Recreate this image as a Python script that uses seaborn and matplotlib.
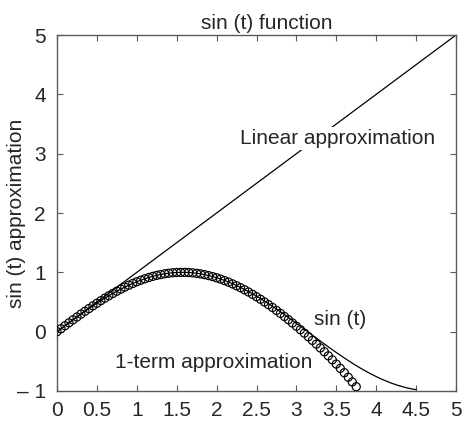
import matplotlib
matplotlib.use("Agg")
import matplotlib.pyplot as plt
import seaborn as sns
import pandas as pd

# Time samples for the series approximation (circles), step 0.05 from 0 to 3.75
t_approx = [0.00, 0.05, 0.10, 0.15, 0.20, 0.25, 0.30, 0.35, 0.40, 0.45,
            0.50, 0.55, 0.60, 0.65, 0.70, 0.75, 0.80, 0.85, 0.90, 0.95,
            1.00, 1.05, 1.10, 1.15, 1.20, 1.25, 1.30, 1.35, 1.40, 1.45,
            1.50, 1.55, 1.60, 1.65, 1.70, 1.75, 1.80, 1.85, 1.90, 1.95,
            2.00, 2.05, 2.10, 2.15, 2.20, 2.25, 2.30, 2.35, 2.40, 2.45,
            2.50, 2.55, 2.60, 2.65, 2.70, 2.75, 2.80, 2.85, 2.90, 2.95,
            3.00, 3.05, 3.10, 3.15, 3.20, 3.25, 3.30, 3.35, 3.40, 3.45,
            3.50, 3.55, 3.60, 3.65, 3.70, 3.75]
y_approx = [0.000, 0.050, 0.100, 0.149, 0.199, 0.247, 0.296, 0.343, 0.389, 0.435,
            0.479, 0.523, 0.565, 0.605, 0.644, 0.682, 0.717, 0.751, 0.783, 0.813,
            0.841, 0.867, 0.891, 0.913, 0.932, 0.949, 0.963, 0.976, 0.985, 0.993,
            0.997, 0.999, 0.999, 0.997, 0.991, 0.984, 0.973, 0.961, 0.945, 0.928,
            0.908, 0.886, 0.861, 0.834, 0.805, 0.774, 0.741, 0.706, 0.669, 0.629,
            0.589, 0.546, 0.501, 0.455, 0.408, 0.358, 0.308, 0.256, 0.202, 0.147,
            0.091, 0.034, -0.025, -0.085, -0.147, -0.210, -0.274, -0.339, -0.407, -0.475,
            -0.546, -0.618, -0.692, -0.768, -0.847, -0.928]

# Exact sin(t) curve, step 0.05 from 0 to 4.5
t_sin = [0.00, 0.05, 0.10, 0.15, 0.20, 0.25, 0.30, 0.35, 0.40, 0.45,
         0.50, 0.55, 0.60, 0.65, 0.70, 0.75, 0.80, 0.85, 0.90, 0.95,
         1.00, 1.05, 1.10, 1.15, 1.20, 1.25, 1.30, 1.35, 1.40, 1.45,
         1.50, 1.55, 1.60, 1.65, 1.70, 1.75, 1.80, 1.85, 1.90, 1.95,
         2.00, 2.05, 2.10, 2.15, 2.20, 2.25, 2.30, 2.35, 2.40, 2.45,
         2.50, 2.55, 2.60, 2.65, 2.70, 2.75, 2.80, 2.85, 2.90, 2.95,
         3.00, 3.05, 3.10, 3.15, 3.20, 3.25, 3.30, 3.35, 3.40, 3.45,
         3.50, 3.55, 3.60, 3.65, 3.70, 3.75, 3.80, 3.85, 3.90, 3.95,
         4.00, 4.05, 4.10, 4.15, 4.20, 4.25, 4.30, 4.35, 4.40, 4.45, 4.50]
y_sin = [0.000, 0.050, 0.100, 0.149, 0.199, 0.247, 0.296, 0.343, 0.389, 0.435,
         0.479, 0.523, 0.565, 0.605, 0.644, 0.682, 0.717, 0.751, 0.783, 0.813,
         0.841, 0.867, 0.891, 0.913, 0.932, 0.949, 0.964, 0.976, 0.985, 0.993,
         0.997, 1.000, 1.000, 0.997, 0.992, 0.984, 0.974, 0.961, 0.946, 0.929,
         0.909, 0.887, 0.863, 0.837, 0.809, 0.778, 0.746, 0.711, 0.675, 0.638,
         0.598, 0.558, 0.516, 0.472, 0.427, 0.382, 0.335, 0.287, 0.239, 0.190,
         0.141, 0.091, 0.042, -0.008, -0.058, -0.108, -0.158, -0.207, -0.256, -0.304,
         -0.351, -0.397, -0.443, -0.487, -0.530, -0.572, -0.612, -0.651, -0.688, -0.723,
         -0.757, -0.789, -0.818, -0.846, -0.872, -0.895, -0.916, -0.935, -0.952, -0.966, -0.978]

# Linear (1-term) approximation y = t
t_lin = [0.0, 5.0]
y_lin = [0.0, 5.0]

x_ticks = [0, 0.5, 1, 1.5, 2, 2.5, 3, 3.5, 4, 4.5, 5]
x_tick_labels = ["0", "0.5", "1", "1.5", "2", "2.5", "3", "3.5", "4", "4.5", "5"]
y_ticks = [-1, 0, 1, 2, 3, 4, 5]
y_tick_labels = ["\u2013 1", "0", "1", "2", "3", "4", "5"]

sns.set_theme(style="white")
plt.rcParams["font.family"] = ["Liberation Sans", "DejaVu Sans"]

text_color = "#262626"
frame_color = "#5a5a5a"
fs = 15

fig = plt.figure(figsize=(4.62, 4.25), dpi=100)
ax = fig.add_axes([0.1234, 0.08, 0.8636, 0.8376])

df_lin = pd.DataFrame({"t": t_lin, "y": y_lin})
df_sin = pd.DataFrame({"t": t_sin, "y": y_sin})
df_app = pd.DataFrame({"t": t_approx, "y": y_approx})

sns.lineplot(data=df_lin, x="t", y="y", ax=ax, color="black", linewidth=0.9,
             sort=False, estimator=None, zorder=2)
sns.lineplot(data=df_sin, x="t", y="y", ax=ax, color="black", linewidth=0.9,
             sort=False, estimator=None, zorder=2)
sns.scatterplot(data=df_app, x="t", y="y", ax=ax, marker="o", s=34,
                facecolor="none", edgecolor="black", linewidth=0.85, zorder=3)

ax.set_xlim(0, 5)
ax.set_ylim(-1, 5)
ax.set_xticks(x_ticks)
ax.set_xticklabels(x_tick_labels)
ax.set_yticks(y_ticks)
ax.set_yticklabels(y_tick_labels)

ax.tick_params(axis="both", which="both", direction="in", length=4, width=0.8,
               color=frame_color, labelsize=fs, labelcolor=text_color,
               top=True, right=True, bottom=True, left=True)
ax.tick_params(axis="x", pad=7)
ax.tick_params(axis="y", pad=8)
for sp in ax.spines.values():
    sp.set_visible(True)
    sp.set_color(frame_color)
    sp.set_linewidth(1.0)

ax.set_xlabel("")
ax.set_ylabel("sin (t) approximation", fontsize=fs, color=text_color)
ax.yaxis.set_label_coords(-0.078, 0.5)
ax.set_title("sin (t) function", fontsize=fs, color=text_color, pad=4, x=0.525)

label_box = dict(facecolor="white", edgecolor="none", pad=1.5)
ax.text(3.52, 3.26, "Linear approximation", fontsize=fs, color=text_color,
        ha="center", va="center", bbox=label_box, zorder=4)
ax.text(3.55, 0.21, "sin (t)", fontsize=fs, color=text_color,
        ha="center", va="center", zorder=4)
ax.text(1.96, -0.52, "1-term approximation", fontsize=fs, color=text_color,
        ha="center", va="center", zorder=4)

fig.savefig("out.png", dpi=100)
